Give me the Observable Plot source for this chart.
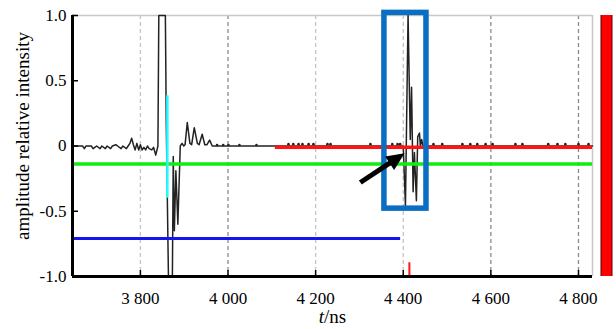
<!DOCTYPE html>
<html><head><meta charset="utf-8">
<script src="https://cdn.jsdelivr.net/npm/d3@7"></script>
<script src="https://cdn.jsdelivr.net/npm/@observablehq/plot@0.6"></script>
<style>
body{margin:0;background:#fff}
svg{display:block}
</style>
</head><body><div id="chart"></div>
<script>
// axes
const xDomain = [3645, 4832];
const yDomain = [-1, 1];
const xTicks = [3800, 4000, 4200, 4400, 4600, 4800];
const xTickLabels = ["3 800", "4 000", "4 200", "4 400", "4 600", "4 800"];
const yTicks = [-1, -0.5, 0, 0.5, 1];
const yTickLabels = ["-1.0", "-0.5", "0", "0.5", "1.0"];
const gridLight = [3800, 4200, 4400];
const gridDark = [4000, 4600, 4800];
const yLabel = "amplitude relative intensity";
const xLabel = "t/ns";

// waveform [t (ns), amplitude]
const trace = [
  [3645, 0], [3668, 0], [3672, -0.02], [3676, 0], [3688, 0], [3692, -0.02], [3696, -0.01], [3700, 0],
  [3708, -0.02], [3712, 0], [3720, -0.02], [3724, 0], [3732, -0.02], [3736, 0], [3744, 0.01], [3748, 0],
  [3756, -0.02], [3760, 0], [3768, -0.02], [3772, 0], [3776, 0.02], [3780, 0.06], [3784, 0.01],
  [3788, -0.03], [3792, 0.02], [3796, -0.03], [3800, 0.01], [3804, -0.03], [3808, -0.01], [3812, -0.03],
  [3816, 0], [3820, -0.02], [3826, -0.03], [3830, -0.01], [3835, -0.07], [3840, 0],
  [3842, 1], [3857, 1], [3859, 0.19], [3864, -1], [3873, -1], [3875, -0.08], [3877.5, -0.65],
  [3881, -0.19], [3885.5, -0.6], [3891, 0], [3895, 0.02], [3899, 0], [3902, 0.01],
  [3907, 0.18], [3913, 0.02], [3917, 0.01], [3923, 0.14], [3930, 0.02], [3934, 0.01], [3941, 0.09], [3947, 0.01],
  [3952, 0.01], [3958, 0.045], [3964, 0],
  [4400, 0], [4405, -0.46], [4411, 1], [4416, 0.05], [4419, 0.45], [4422.5, -0.35], [4425.5, -0.05],
  [4430, -0.42], [4433, 0.07], [4437, 0.1], [4439, 0], [4442, 0.05], [4445, 0], [4832, 0]
];
// small noise blips of the trace showing along the baseline
const blipLineT = [3975, 3989, 4001, 4026, 4065];
const blipRedT = [4138, 4149, 4161, 4170, 4184, 4195, 4227, 4234, 4325, 4375, 4387, 4393,
  4469, 4489, 4535, 4553, 4569, 4588, 4604, 4656, 4672, 4731, 4752, 4770, 4800, 4823];

// reference lines
const greenV = -0.138;
const blueV = -0.709;
const blueEndT = 4394;
const redV = -0.01;
const redStartT = 4108;
const cyanT = 3861.6;
const cyanV = [-0.40, 0.385];
const redTickT = 4414;
const redTickV = [-1, -0.895];

// annotations
const boxT = [4357, 4453];
const boxV = [-0.48, 1.02];
const arrowT = [4302, 4403];
const arrowV = [-0.28, -0.055];

const serif = "Liberation Serif";

const chart = Plot.plot({
  width: 616, height: 329,
  marginLeft: 72, marginRight: 24, marginTop: 15, marginBottom: 53,
  style: {fontSize: "17px", color: "#000", background: "#fff", overflow: "visible"},
  x: {domain: xDomain},
  y: {domain: yDomain},
  marks: [
    Plot.ruleX(gridLight, {stroke: "#c4c4c4", strokeWidth: 1.3, strokeDasharray: "4,3"}),
    Plot.ruleX(gridDark, {stroke: "#8a8a8a", strokeWidth: 1.3, strokeDasharray: "4,3"}),
    Plot.ruleY([yDomain[1]], {stroke: "#c8c8c8", strokeWidth: 1.5}),
    Plot.ruleX([xDomain[1]], {stroke: "#c8c8c8", strokeWidth: 1.5}),
    Plot.line(trace, {x: d => d[0], y: d => d[1], stroke: "#222", strokeWidth: 1.5, curve: "linear"}),
    Plot.dot(blipLineT, {x: d => d, y: () => 0.008, r: 1.3, fill: "#222"}),
    Plot.dot(blipRedT, {x: d => d, y: () => 0.014, r: 1.3, fill: "#222"}),
    Plot.ruleY([greenV], {stroke: "#10ee10", strokeWidth: 3.5}),
    Plot.ruleY([blueV], {x1: () => xDomain[0], x2: () => blueEndT, stroke: "#1414f0", strokeWidth: 3}),
    Plot.ruleY([redV], {x1: () => redStartT, x2: () => xDomain[1], stroke: "#ff1414", strokeWidth: 3.5}),
    Plot.ruleX([cyanT], {y1: () => cyanV[0], y2: () => cyanV[1], stroke: "#22ffff", strokeWidth: 2.5}),
    Plot.ruleX([redTickT], {y1: () => redTickV[0], y2: () => redTickV[1], stroke: "#ff1414", strokeWidth: 2}),
    Plot.ruleX([xDomain[0]], {stroke: "#000", strokeWidth: 3}),
    Plot.ruleY([yDomain[0]], {stroke: "#000", strokeWidth: 3}),
    Plot.axisX({ticks: xTicks, tickSize: -6, tickPadding: 21, strokeWidth: 1.5, fontSize: 17,
      tickFormat: d => xTickLabels[xTicks.indexOf(d)], label: null}),
    Plot.axisY({ticks: yTicks, tickSize: -6, tickPadding: 12, strokeWidth: 1.5, fontSize: 17,
      tickFormat: d => yTickLabels[yTicks.indexOf(d)], label: null}),
    Plot.rect([0], {x1: () => boxT[0], x2: () => boxT[1], y1: () => boxV[0], y2: () => boxV[1],
      fill: "none", stroke: "#0a6fc2", strokeWidth: 5.5}),
    Plot.arrow([0], {x1: () => arrowT[0], y1: () => arrowV[0], x2: () => arrowT[1], y2: () => arrowV[1],
      stroke: "#000", strokeWidth: 5, headLength: 0, insetEnd: 12, strokeLinecap: "butt"}),
    Plot.vector([0], {x: () => arrowT[1], y: () => arrowV[1], anchor: "end", shape: "spike",
      length: 18, r: 8, rotate: 56, fill: "#000", stroke: "none"}),
    Plot.ruleX([xDomain[1]], {y1: () => yDomain[0], y2: () => yDomain[1], dx: 14, stroke: "#5a0000", strokeWidth: 12}),
    Plot.ruleX([xDomain[1]], {y1: () => yDomain[0], y2: () => yDomain[1], dx: 14, stroke: "#ff0000", strokeWidth: 10}),
    Plot.text([yLabel], {frameAnchor: "left", text: d => d, rotate: -90, dx: -50, dy: -10,
      fontSize: 19, textAnchor: "middle", lineAnchor: "middle"}),
    Plot.text([xLabel], {frameAnchor: "bottom", text: d => d, dy: 40, fontSize: 19,
      textAnchor: "middle", lineAnchor: "middle"})
  ]
});
document.getElementById("chart").appendChild(chart);
const svgSel = d3.select(chart);
svgSel.attr("font-family", serif).style("font-family", serif);
svgSel.selectAll("g, text, tspan").attr("font-family", serif).style("font-family", serif);
svgSel.selectAll("text").filter(function() { return this.textContent === xLabel; })
  .each(function() {
    const s = d3.select(this);
    s.text(null);
    s.append("tspan").attr("font-style", "italic").text("t");
    s.append("tspan").text("/ns");
  });
</script>
</body></html>
